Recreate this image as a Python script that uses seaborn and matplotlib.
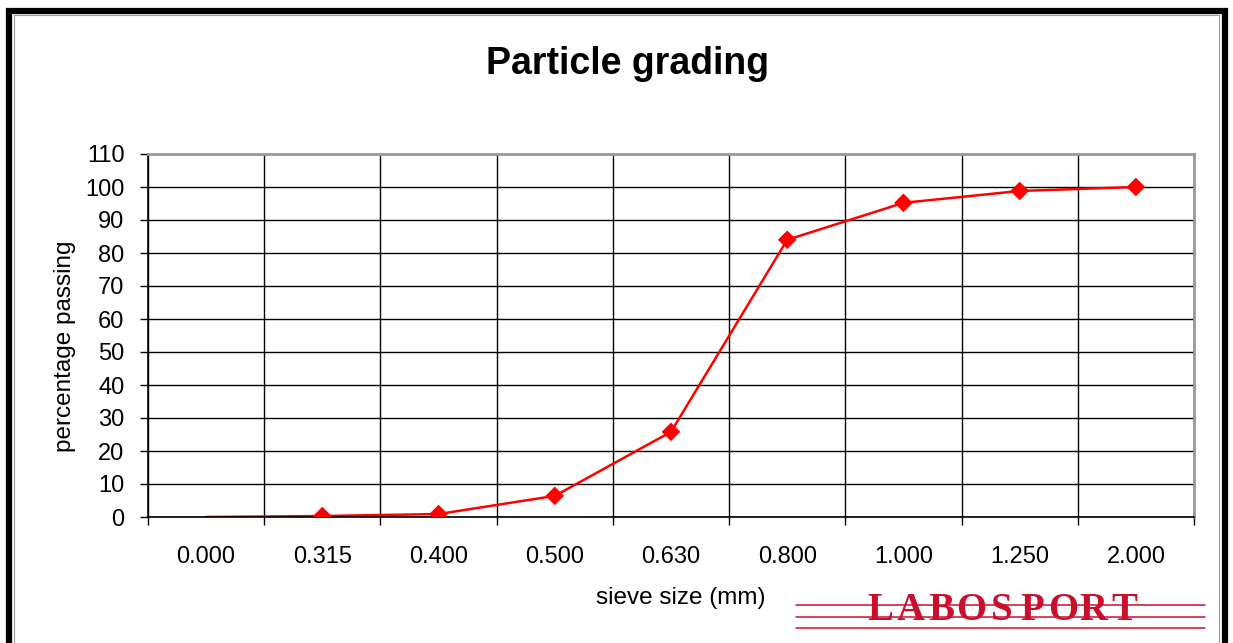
import matplotlib.pyplot as plt
import matplotlib.patches as mpatches
import matplotlib.lines as mlines
import numpy as np
import pandas as pd
import seaborn as sns

# sieve sizes (mm) and cumulative percentage passing
sieve_sizes = ["0.000", "0.315", "0.400", "0.500", "0.630", "0.800", "1.000", "1.250", "2.000"]
passing = [0.0, 0.3, 0.9, 6.4, 25.8, 84.0, 95.2, 98.8, 100.0]
y_ticks = list(range(0, 111, 10))
logo = "LABOSPORT"

sns.set_theme(style="white")
plt.rcParams["font.family"] = ["Liberation Sans", "DejaVu Sans"]

df = pd.DataFrame({"sieve": sieve_sizes, "passing": passing})

W, H = 1233, 643
fig = plt.figure(figsize=(W / 100, H / 100), dpi=100)
ax = fig.add_axes([148 / W, 1 - 517 / H, (1194 - 148) / W, (517 - 154) / H])

sns.lineplot(data=df, x="sieve", y="passing", ax=ax, color="#ff0000", linewidth=1.8, sort=False)
# the 0.000 point carries no marker in the original
sns.scatterplot(data=df.iloc[1:], x="sieve", y="passing", ax=ax, color="#ff0000",
                marker="D", s=90, edgecolor="none", zorder=5)

n = len(sieve_sizes)
ax.set_xlim(-0.5, n - 0.5)
ax.set_ylim(0, 110)
ax.set_yticks(y_ticks)
ax.set_xticks(range(n))
ax.set_xticklabels(sieve_sizes)
ax.set_xticks(np.arange(-0.5, n, 1.0), minor=True)
ax.tick_params(axis="x", which="major", length=0, pad=21, labelsize=17, colors="black")
ax.tick_params(axis="x", which="minor", length=6, width=1, color="black", direction="out", bottom=True)
ax.tick_params(axis="y", length=6, width=1, color="black", direction="out", left=True,
               labelsize=17, pad=11, colors="black")
ax.grid(True, axis="y", which="major", color="black", linewidth=1)
ax.grid(True, axis="x", which="minor", color="black", linewidth=1)
ax.grid(False, axis="x", which="major")
ax.set_axisbelow(True)

for side in ["left", "bottom"]:
    ax.spines[side].set_color("black")
    ax.spines[side].set_linewidth(1.2)
for side in ["right", "top"]:
    ax.spines[side].set_color("#999999")
    ax.spines[side].set_linewidth(2)

ax.set_xlabel("")
ax.set_ylabel("")
fig.text(681 / W, 1 - 598 / H, "sieve size (mm)", fontsize=17.5, color="black",
         ha="center", va="center")
fig.text(65 / W, 1 - 346 / H, "percentage passing", fontsize=17.5, color="black",
         ha="center", va="center", rotation=90)
fig.text(628 / W, 1 - 64 / H, "Particle grading", fontsize=27, fontweight="bold",
         ha="center", va="center", color="black")

# outer frame: thick black border with thin grey inner line
fig.patches.append(mpatches.Rectangle((8.5 / W, -0.05), (1224.5 - 8.5) / W, 1.05 - 11 / H,
                                      transform=fig.transFigure, fill=False,
                                      edgecolor="black", linewidth=4.5))
fig.patches.append(mpatches.Rectangle((13.5 / W, -0.05), (1219 - 13.5) / W, 1.05 - 15 / H,
                                      transform=fig.transFigure, fill=False,
                                      edgecolor="#999999", linewidth=0.8))

# logo: spaced serif letters over three red rules
for yy in [605, 617, 628]:
    fig.lines.append(mlines.Line2D([796 / W, 1205 / W], [1 - yy / H, 1 - yy / H],
                                   transform=fig.transFigure, color="#d0102a", linewidth=1.1))
for i, ch in enumerate(logo):
    fig.text((880 + i * 30.5) / W, 1 - 611 / H, ch, fontsize=28, fontweight="bold",
             family="Liberation Serif", color="#c8102e", ha="center", va="center")

fig.savefig("out.png", dpi=100)
